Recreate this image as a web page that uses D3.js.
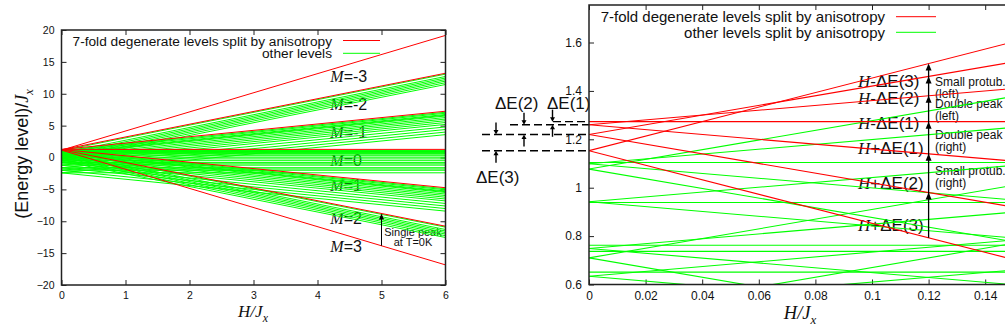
<!DOCTYPE html>
<html>
<head>
<meta charset="utf-8">
<script src="https://cdn.jsdelivr.net/npm/d3@7"></script>
<style>
body { margin: 0; background: #fff; }
svg { display: block; }
text { font-family: "Liberation Sans", Arial, sans-serif; fill: #111; }
.ser { font-family: "Liberation Serif", "Times New Roman", serif; font-style: italic; }
</style>
</head>
<body>
<svg id="fig" width="1005" height="335"></svg>
<script>
// 7-fold degenerate levels (red): M and energy at H=0
const redM = [-3, -2, -1, 0, 1, 2, 3];
const redE0 = [1.153, 1.220, 1.260, 1.273, 1.260, 1.220, 1.153];

// other levels (green): energy at H=0, one array per M (slope is -M)
const greenMm2 = [1.077, 0.710, 0.470, 0.230, -0.010, -0.270, -0.550];
const greenMm1 = [1.099, 0.749, 0.510, 0.270, 0.030, -0.230, -0.510, 0.942, 0.634, -0.810, -1.210, -1.610, -2.010, -2.410];
const greenM0 = [1.104, 0.762, 0.520, 0.280, 0.040, -0.220, -0.500, 0.939, 0.651, -0.800, -1.200, -1.600, -2.000, -2.400, 0.737, -1.000, -1.800];
const greenMp1 = [1.099, 0.749, 0.510, 0.270, 0.030, -0.230, -0.510, 0.942, 0.634, -0.810, -1.210, -1.610, -2.010, -2.410];
const greenMp2 = [1.077, 0.710, 0.470, 0.230, -0.010, -0.270, -0.550];

// ticks
const leftXTicks = [0, 1, 2, 3, 4, 5, 6];
const leftYTicks = [-20, -15, -10, -5, 0, 5, 10, 15, 20];
const rightXTicks = [0, 0.02, 0.04, 0.06, 0.08, 0.1, 0.12, 0.14];
const rightYTicks = [0.6, 0.8, 1, 1.2, 1.4, 1.6];

// labels
const mLabels = ["-3", "-2", "-1", "0", "1", "2", "3"];
const mLabelE = [11.9, 7.5, 3.1, -1.4, -5.2, -10.4, -14.9];
const transLabels = ["-\u0394E(3)", "-\u0394E(2)", "-\u0394E(1)", "+\u0394E(1)", "+\u0394E(2)", "+\u0394E(3)"];
const transLabelE = [1.44, 1.371, 1.268, 1.165, 1.018, 0.845];
const peakLabels = [["Small protub.", "(left)"], ["Double peak", "(left)"], ["Double peak", "(right)"], ["Small protub.", "(right)"]];
const peakLabelE = [1.44, 1.346, 1.217, 1.072];

const RED = "#ff0000", GREEN = "#00ff00";

const greenLines = [];
[[-2, greenMm2], [-1, greenMm1], [0, greenM0], [1, greenMp1], [2, greenMp2]].forEach(([m, arr]) => {
  arr.forEach(e => greenLines.push({ m: m, e0: e }));
});
const redLines = redM.map((m, i) => ({ m: m, e0: redE0[i] }));

const svg = d3.select("#fig");
const defs = svg.append("defs");

function arrowHead(g, x, y, dir, len, half) {
  // dir = -1 points up, 1 points down
  g.append("path")
    .attr("d", `M${x},${y} L${x - half},${y - dir * len} L${x + half},${y - dir * len} Z`)
    .attr("fill", "#000");
}

function drawPanel(o) {
  const x = o.x, y = o.y;
  const g = svg.append("g");
  defs.append("clipPath").attr("id", o.id)
    .append("rect")
    .attr("x", x.range()[0]).attr("y", y.range()[1])
    .attr("width", x.range()[1] - x.range()[0])
    .attr("height", y.range()[0] - y.range()[1]);

  const fmt = d3.format("~g");
  g.append("g").attr("transform", `translate(0,${y.range()[0]})`)
    .call(d3.axisBottom(x).tickValues(o.xt).tickSize(-5).tickPadding(o.pad).tickFormat(fmt));
  g.append("g").attr("transform", `translate(${x.range()[0]},0)`)
    .call(d3.axisLeft(y).tickValues(o.yt).tickSize(-5).tickPadding(o.pad).tickFormat(fmt));
  g.append("g").attr("transform", `translate(0,${y.range()[1]})`)
    .call(d3.axisTop(x).tickValues(o.xt).tickSize(-5).tickFormat(""));
  g.append("g").attr("transform", `translate(${x.range()[1]},0)`)
    .call(d3.axisRight(y).tickValues(o.yt).tickSize(-5).tickFormat(""));
  g.selectAll(".domain").remove();
  g.selectAll(".tick line").attr("stroke", "#222").attr("stroke-width", 1);
  g.selectAll(".tick text").style("font-size", o.tickFont + "px").attr("fill", "#111");

  // x label H/J_x
  const xl = g.append("text").attr("x", o.xlabX).attr("y", o.xlabY)
    .attr("text-anchor", "middle").style("font-size", o.labFont + "px");
  xl.append("tspan").attr("class", "ser").text("H/J");
  xl.append("tspan").attr("class", "ser").attr("dy", 5).style("font-size", (o.labFont * 0.7) + "px").text("x");

  return g;
}

// ---------- left panel ----------
const lx = d3.scaleLinear().domain([0, 6]).range([61.5, 445.5]);
const ly = d3.scaleLinear().domain([-20, 20]).range([285, 30]);
drawPanel({ id: "clipL", x: lx, y: ly, xt: leftXTicks, yt: leftYTicks, pad: 7, tickFont: 10.5,
  xlabX: 253, xlabY: 317, labFont: 17 });

const yl = svg.append("text").attr("transform", "translate(28,154) rotate(-90)")
  .attr("text-anchor", "middle").style("font-size", "18px");
yl.append("tspan").text("(Energy level)/");
yl.append("tspan").attr("class", "ser").text("J");
yl.append("tspan").attr("class", "ser").attr("dy", 5).style("font-size", "12.5px").text("x");

// M labels (under the lines)
mLabels.forEach((t, i) => {
  const tx = svg.append("text").attr("x", lx(4.2)).attr("y", ly(mLabelE[i])).style("font-size", "16px");
  tx.append("tspan").attr("class", "ser").text("M");
  tx.append("tspan").text("=" + t);
});

// single peak note
svg.append("text").attr("x", 413).attr("y", 235.5).attr("text-anchor", "middle").style("font-size", "11px").text("Single peak");
svg.append("text").attr("x", 413).attr("y", 246).attr("text-anchor", "middle").style("font-size", "11px").text("at T=0K");

// legend
svg.append("text").attr("x", 332).attr("y", 45.5).attr("text-anchor", "end").style("font-size", "13.7px").text("7-fold degenerate levels split by anisotropy");
svg.append("text").attr("x", 332).attr("y", 58).attr("text-anchor", "end").style("font-size", "13.7px").text("other levels");
svg.append("line").attr("x1", 343).attr("x2", 380).attr("y1", 40.5).attr("y2", 40.5).attr("stroke", RED);
svg.append("line").attr("x1", 343).attr("x2", 380).attr("y1", 53.3).attr("y2", 53.3).attr("stroke", GREEN);

const lineL = d3.line().x(d => lx(d[0])).y(d => ly(d[1]));
const linesL = svg.append("g").attr("clip-path", "url(#clipL)");
linesL.selectAll(".g").data(greenLines).enter().append("path")
  .attr("d", d => lineL([[0, d.e0], [6, d.e0 - d.m * 6]]))
  .attr("fill", "none").attr("stroke", GREEN).attr("stroke-width", 1);
linesL.selectAll(".r").data(redLines).enter().append("path")
  .attr("d", d => lineL([[0, d.e0], [6, d.e0 - d.m * 6]]))
  .attr("fill", "none").attr("stroke", RED).attr("stroke-width", 1);

// arrow at H=5, M=3 -> M=2
const e3 = redE0[6] - redM[6] * 5, e2 = redE0[5] - redM[5] * 5;
svg.append("line").attr("x1", lx(5)).attr("x2", lx(5)).attr("y1", ly(e3)).attr("y2", ly(e2) + 4)
  .attr("stroke", "#000").attr("stroke-width", 1);
arrowHead(svg, lx(5), ly(e2), -1, 6, 2.5);

svg.append("rect").attr("x", 61.5).attr("y", 30).attr("width", 384).attr("height", 255)
  .attr("fill", "none").attr("stroke", "#222").attr("stroke-width", 1.5);

// ---------- right panel ----------
const rx = d3.scaleLinear().domain([0, 0.15]).range([589, 1013.5]);
const ry = d3.scaleLinear().domain([0.6, 1.755]).range([284.5, 5]);
drawPanel({ id: "clipR", x: rx, y: ry, xt: rightXTicks, yt: rightYTicks, pad: 7, tickFont: 12,
  xlabX: 800, xlabY: 319, labFont: 18.5 });

// legend
svg.append("text").attr("x", 885).attr("y", 22).attr("text-anchor", "end").style("font-size", "15px").text("7-fold degenerate levels split by anisotropy");
svg.append("text").attr("x", 885).attr("y", 37.6).attr("text-anchor", "end").style("font-size", "15px").text("other levels split by anisotropy");
svg.append("line").attr("x1", 896).attr("x2", 936).attr("y1", 16.7).attr("y2", 16.7).attr("stroke", RED);
svg.append("line").attr("x1", 896).attr("x2", 936).attr("y1", 32.3).attr("y2", 32.3).attr("stroke", GREEN);

// transition labels
transLabels.forEach((t, i) => {
  const tx = svg.append("text").attr("x", 858).attr("y", ry(transLabelE[i]) + 6).style("font-size", "17px");
  tx.append("tspan").attr("class", "ser").text("H");
  tx.append("tspan").text(t);
});
peakLabels.forEach((p, i) => {
  const y0 = ry(peakLabelE[i]);
  svg.append("text").attr("x", 935).attr("y", y0 + 4.3).style("font-size", "12px").text(p[0]);
  svg.append("text").attr("x", 935).attr("y", y0 + 16.3).style("font-size", "12px").text(p[1]);
});

const lineR = d3.line().x(d => rx(d[0])).y(d => ry(d[1]));
const linesR = svg.append("g").attr("clip-path", "url(#clipR)");
linesR.selectAll(".g").data(greenLines).enter().append("path")
  .attr("d", d => lineR([[0, d.e0], [0.15, d.e0 - d.m * 0.15]]))
  .attr("fill", "none").attr("stroke", GREEN).attr("stroke-width", 1.1);
linesR.selectAll(".r").data(redLines).enter().append("path")
  .attr("d", d => lineR([[0, d.e0], [0.15, d.e0 - d.m * 0.15]]))
  .attr("fill", "none").attr("stroke", RED).attr("stroke-width", 1.1);

// vertical arrows at H=0.12 from M=3 up through each level
const hA = 0.12;
const lev = redLines.map(d => d.e0 - d.m * hA);
svg.append("line").attr("x1", rx(hA)).attr("x2", rx(hA))
  .attr("y1", ry(lev[6])).attr("y2", ry(lev[0]) + 4)
  .attr("stroke", "#000").attr("stroke-width", 1.3);
for (let i = 0; i < 6; i++) arrowHead(svg, rx(hA), ry(lev[i]), -1, 7, 3);

// dashed level markers in the left margin
const dashFrom = [553, 510, 482, 482];
[3, 4, 5, 6].forEach((k, j) => {
  svg.append("line").attr("x1", dashFrom[j]).attr("x2", rx(0))
    .attr("y1", ry(redE0[k])).attr("y2", ry(redE0[k]))
    .attr("stroke", "#000").attr("stroke-width", 1.4).attr("stroke-dasharray", "8,4");
});

// small arrows for Delta E(1..3)
const dX = [552.5, 524, 496];
dX.forEach((xx, j) => {
  const yTop = ry(redE0[3 + j]), yBot = ry(redE0[4 + j]);
  svg.append("line").attr("x1", xx).attr("x2", xx).attr("y1", yTop - 12).attr("y2", yTop - 3).attr("stroke", "#000").attr("stroke-width", 1.4);
  arrowHead(svg, xx, yTop, 1, 4.5, 2.5);
  svg.append("line").attr("x1", xx).attr("x2", xx).attr("y1", yBot + 12).attr("y2", yBot + 3).attr("stroke", "#000").attr("stroke-width", 1.4);
  arrowHead(svg, xx, yBot, -1, 4.5, 2.5);
});
svg.append("text").attr("x", 495).attr("y", 109).style("font-size", "17px").text("\u0394E(2)");
svg.append("text").attr("x", 547).attr("y", 109).style("font-size", "17px").text("\u0394E(1)");
svg.append("text").attr("x", 476).attr("y", 182.5).style("font-size", "17px").text("\u0394E(3)");

svg.append("path").attr("d", `M1013.5,5 H589 V284.5 H1013.5`)
  .attr("fill", "none").attr("stroke", "#222").attr("stroke-width", 1.5);
</script>
</body>
</html>
